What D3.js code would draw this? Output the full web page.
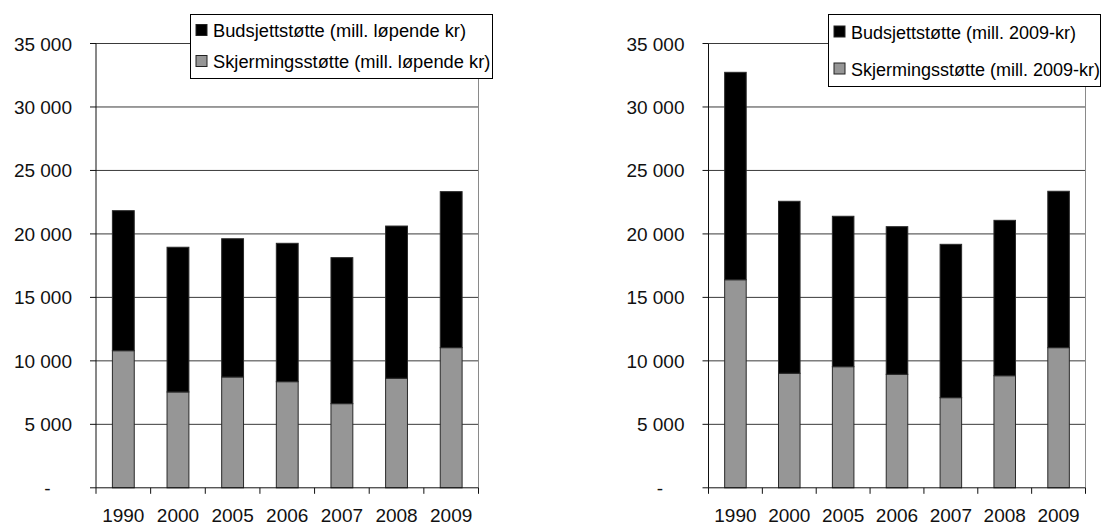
<!DOCTYPE html>
<html>
<head>
<meta charset="utf-8">
<script src="https://cdn.jsdelivr.net/npm/d3@7/dist/d3.min.js"></script>
<style>
  html, body { margin: 0; padding: 0; background: #fff; }
  svg { display: block; font-family: "Liberation Sans", Arial, sans-serif; }
</style>
</head>
<body>
<svg id="chart" width="1110" height="526"></svg>
<script>
// Years shown on both panels
const years = ["1990", "2000", "2005", "2006", "2007", "2008", "2009"];

// Current-price series (mill. løpende kr)
const skjermingLopende = [10800, 7550, 8730, 8360, 6630, 8630, 11040];
const budsjettLopende  = [11030, 11400, 10890, 10900, 11500, 11990, 12290];

// Fixed-price series (mill. 2009-kr)
const skjerming2009 = [16390, 9020, 9540, 8940, 7100, 8830, 11040];
const budsjett2009  = [16340, 13550, 11850, 11630, 12080, 12240, 12320];

// Y ticks and their printed labels
const yTicks = [0, 5000, 10000, 15000, 20000, 25000, 30000, 35000];
const yTickLabels = ["-", "5 000", "10 000", "15 000", "20 000", "25 000", "30 000", "35 000"];

const legendLopende = ["Budsjettstøtte (mill. løpende kr)", "Skjermingsstøtte (mill. løpende kr)"];
const legend2009 = ["Budsjettstøtte (mill. 2009-kr)", "Skjermingsstøtte (mill. 2009-kr)"];

const svg = d3.select("#chart");

function panel(opts) {
  const { left, right, skj, bud, labels, legendBox, legendRows, legendFont } = opts;
  const top = 43.5, bottom = 487.8;
  const g = svg.append("g");

  const x = d3.scaleBand().domain(years).range([left, right])
    .paddingInner(0.6).paddingOuter(0.3);
  const y = d3.scaleLinear().domain([0, 35000]).range([bottom, top]);

  // horizontal gridlines
  g.selectAll("line.grid").data(yTicks.filter(t => t > 0)).join("line")
    .attr("x1", left).attr("x2", right)
    .attr("y1", d => y(d)).attr("y2", d => y(d))
    .attr("stroke", "#3a3a3a").attr("stroke-width", 1);

  // right edge of plot area
  g.append("line").attr("x1", right).attr("x2", right)
    .attr("y1", top).attr("y2", bottom)
    .attr("stroke", "#8a8a8a").attr("stroke-width", 1);

  // stacked bars
  const rows = years.map((yr, i) => ({ yr, skj: skj[i], bud: bud[i] }));
  g.selectAll("rect.skj").data(rows).join("rect")
    .attr("x", d => x(d.yr)).attr("width", x.bandwidth())
    .attr("y", d => y(d.skj)).attr("height", d => y(0) - y(d.skj))
    .attr("fill", "#969696").attr("stroke", "#2a2a2a").attr("stroke-width", 1);
  g.selectAll("rect.bud").data(rows).join("rect")
    .attr("x", d => x(d.yr)).attr("width", x.bandwidth())
    .attr("y", d => y(d.skj + d.bud)).attr("height", d => y(d.skj) - y(d.skj + d.bud))
    .attr("fill", "#000").attr("stroke", "#2a2a2a").attr("stroke-width", 1);

  // y axis
  g.append("line").attr("x1", left).attr("x2", left)
    .attr("y1", top).attr("y2", bottom).attr("stroke", "#111");
  g.selectAll("line.ytick").data(yTicks).join("line")
    .attr("x1", left - 6).attr("x2", left)
    .attr("y1", d => y(d)).attr("y2", d => y(d)).attr("stroke", "#111");
  g.selectAll("text.ylab").data(yTicks).join("text")
    .attr("x", (d, i) => i === 0 ? left - 45.5 : left - 24)
    .attr("y", d => y(d) + 7)
    .attr("text-anchor", "end").attr("font-size", 19).attr("fill", "#111")
    .text((d, i) => yTickLabels[i]);

  // x axis with ticks on the category boundaries
  g.append("line").attr("x1", left).attr("x2", right)
    .attr("y1", bottom).attr("y2", bottom).attr("stroke", "#111");
  const bounds = d3.range(years.length + 1).map(i => left + i * (right - left) / years.length);
  g.selectAll("line.xtick").data(bounds).join("line")
    .attr("x1", d => d).attr("x2", d => d)
    .attr("y1", bottom).attr("y2", bottom + 6).attr("stroke", "#111");
  g.selectAll("text.xlab").data(years).join("text")
    .attr("x", d => x(d) + x.bandwidth() / 2).attr("y", 521.5)
    .attr("text-anchor", "middle").attr("font-size", 19).attr("fill", "#111")
    .text(d => d);

  // legend
  const lg = g.append("g");
  lg.append("rect")
    .attr("x", legendBox[0]).attr("y", legendBox[1])
    .attr("width", legendBox[2]).attr("height", legendBox[3])
    .attr("fill", "#fff").attr("stroke", "#000").attr("stroke-width", 1);
  const fills = ["#000", "#969696"];
  labels.forEach((lab, i) => {
    const r = legendRows[i];
    lg.append("rect").attr("x", legendBox[0] + 5.5).attr("y", r - 12.5)
      .attr("width", 11).attr("height", 11)
      .attr("fill", fills[i]).attr("stroke", "#222").attr("stroke-width", 1);
    lg.append("text").attr("x", legendBox[0] + 22.5).attr("y", r)
      .attr("font-size", legendFont).attr("fill", "#000").text(lab);
  });
}

panel({
  left: 96, right: 478.5,
  skj: skjermingLopende, bud: budsjettLopende, labels: legendLopende,
  legendBox: [190.5, 14.5, 302, 64], legendRows: [37, 68], legendFont: 18.3
});

panel({
  left: 708.5, right: 1085.5,
  skj: skjerming2009, bud: budsjett2009, labels: legend2009,
  legendBox: [828.5, 14.5, 272, 72], legendRows: [38.5, 75.5], legendFont: 18
});
</script>
</body>
</html>
